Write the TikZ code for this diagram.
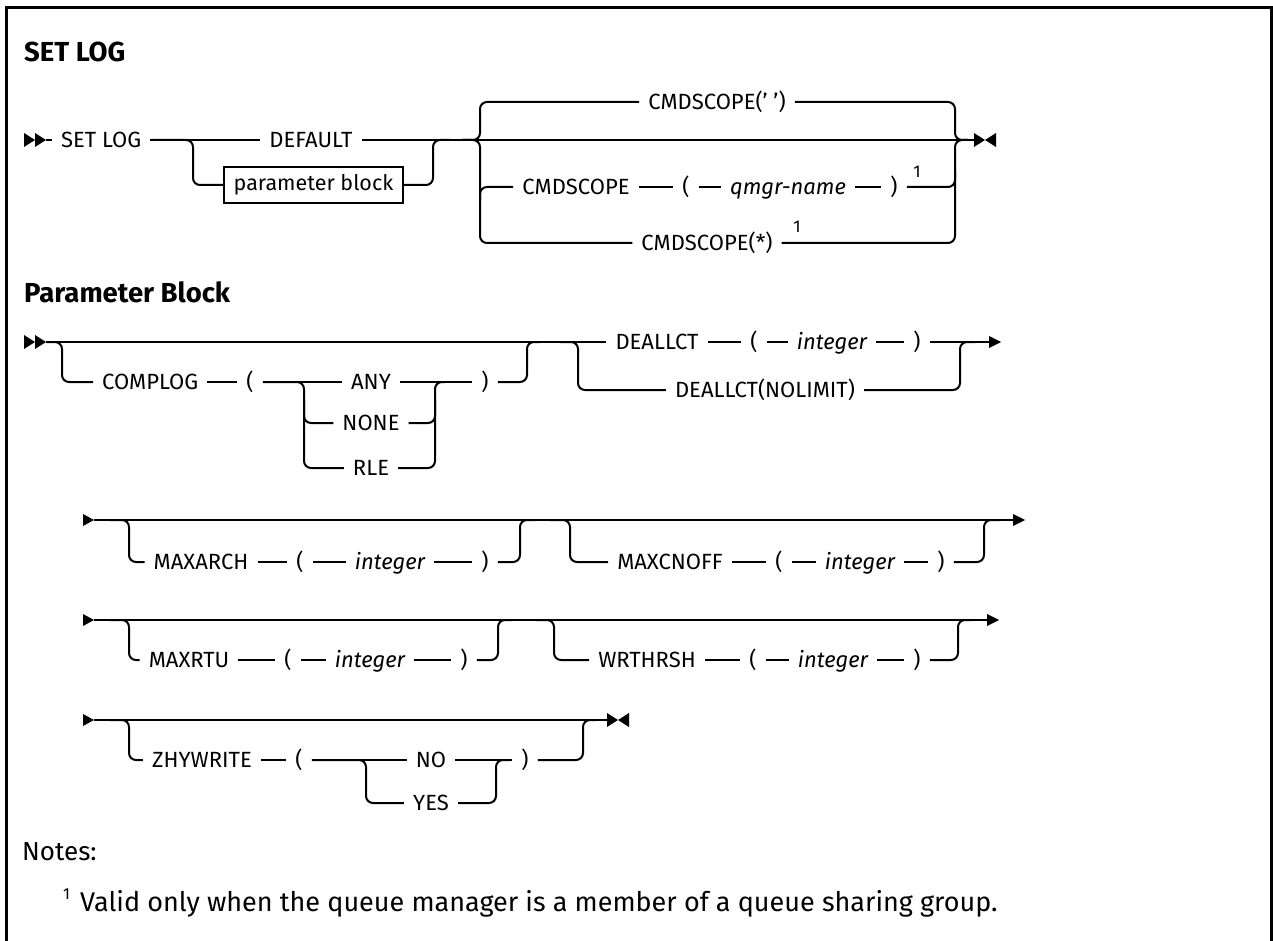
\documentclass[tikz,border=0pt]{standalone}
\usepackage{fontspec}
\setmainfont{Fira Sans}
\usetikzlibrary{calc}
\begin{document}
\begin{tikzpicture}[x=1pt,y=-1pt,
  ln/.style={line width=2pt},
  rc/.style={line width=2pt,rounded corners=7pt},
  tok/.style={font=\fontsize{22}{24}\selectfont, inner xsep=9pt, inner ysep=0pt, text height=15pt, text depth=0pt},
  itok/.style={tok, font=\fontsize{22}{24}\selectfont\itshape},
  supn/.style={font=\fontsize{17}{20}\selectfont, inner sep=0pt},
  pbox/.style={draw, line width=2pt, minimum width=179pt, minimum height=36pt, inner sep=0pt, font=\fontsize{21.5}{24}\selectfont},
  hdr/.style={font=\fontsize{27.5}{30}\selectfont\bfseries, anchor=west, inner sep=0pt, text height=18pt, text depth=0pt},
  note/.style={anchor=base west, inner sep=0pt, font=\fontsize{27}{30}\selectfont},
  dstart/.pic={\fill (0,-7)--(11,0)--(0,7)--cycle; \fill (11,-7)--(22,0)--(11,7)--cycle;},
  sstart/.pic={\fill (0,-6)--(11,0)--(0,6)--cycle;},
  fin/.pic={\fill (0,-7)--(11,0)--(0,7)--cycle; \fill (22,-7)--(11,0)--(22,7)--cycle;},
  arr/.pic={\fill (-12,-6)--(0,0)--(-12,6)--cycle;},
]
\useasboundingbox (0,0) rectangle (1273,941);
\draw[line width=3pt] (6,941) -- (6,8) -- (1271,8) -- (1271,941);

% ---------- SET LOG ----------
\node[hdr] (t1) at (24,53) {SET LOG};
\pic at (24,140) {dstart};
\coordinate (r1s) at (46,140);
\node[tok,anchor=west] (setlog) at (52,140) {SET LOG};
\node[tok] (dflt) at (311,140) {DEFAULT};
\node[pbox] (pb) at (313.5,185) {parameter block};
\node[tok] (c1) at (717,102) {CMDSCOPE(' ')};
\node[tok] (q1) at (576,187) {CMDSCOPE};
\node[tok] (q2) at (686,187) {(};
\node[itok] (q3) at (788,187) {qmgr-name};
\node[tok] (q4) at (894,187) {)};
\node[supn] (q5) at (917,172) {1};
\node[tok] (c3) at (707,243) {CMDSCOPE(*)};
\node[supn] (c3s) at (797,227) {1};
\coordinate (e1) at (974,140);
\pic at (974,140) {fin};

\draw[ln] (r1s) -- (setlog.west);
\draw[ln] (setlog.east) -- (dflt.west);
\draw[rc] (setlog.east) -| (193,185) -- (pb.west);
\draw[ln] (dflt.east) -- (e1);
\draw[rc] (pb.east) -| (433,140) -- (450,140);
\draw[rc] (462,140) -| (480,102) -- (c1.west);
\draw[rc] (462,140) -| (480,243) -- (c3.west);
\draw[rc] (480,200) |- (q1.west);
\draw[ln] (q1.east) -- (q2.west);
\draw[ln] (q2.east) -- (q3.west);
\draw[ln] (q3.east) -- (q4.west);
\draw[rc] (q4.east) -| (955,170);
\draw[rc] (c1.east) -| (955,140) -- (968,140);
\draw[rc] (c3.east) -| (955,140) -- (968,140);

% ---------- Parameter Block ----------
\node[hdr] (t2) at (24,293) {Parameter Block};
\pic at (24,342) {dstart};
\coordinate (r2s) at (46,342);
\node[tok,anchor=west] (cl) at (93,382) {COMPLOG};
\node[tok] (clp) at (250,382) {(};
\node[tok] (any) at (371,382) {ANY};
\node[tok] (none) at (371,423) {NONE};
\node[tok] (rle) at (371,468) {RLE};
\node[tok] (clr) at (485,382) {)};
\node[tok] (da) at (657,342) {DEALLCT};
\node[tok] (dap) at (754,342) {(};
\node[itok] (dai) at (832,342) {integer};
\node[tok] (dar) at (917,342) {)};
\node[tok] (dnl) at (765,390) {DEALLCT(NOLIMIT)};
\coordinate (r2e) at (990,342);
\pic at (1001,342) {arr};

\draw[ln] (r2s) -- (da.west);
\draw[rc] (r2s) -| (62,382) -- (cl.west);
\draw[ln] (cl.east) -- (clp.west);
\draw[ln] (clp.east) -- (any.west);
\draw[rc] (clp.east) -| (304,468) -- (rle.west);
\draw[rc] (304,400) |- (none.west);
\draw[ln] (any.east) -- (clr.west);
\draw[rc] (rle.east) -| (435,382) -- (445,382);
\draw[rc] (none.east) -| (435,400);
\draw[rc] (clr.east) -| (527,342) -- (540,342);
\draw[rc] (560,342) -| (578,390) -- (dnl.west);
\draw[ln] (da.east) -- (dap.west);
\draw[ln] (dap.east) -- (dai.west);
\draw[ln] (dai.east) -- (dar.west);
\draw[ln] (dar.east) -- (r2e);
\draw[rc] (dnl.east) -| (960,342) -- (975,342);

% ---------- row 3 ----------
\pic at (83,520) {sstart};
\coordinate (r3s) at (94,520);
\coordinate (r3e) at (1014,520);
\node[tok] (ma) at (201,562) {MAXARCH};
\node[tok] (map) at (300,562) {(};
\node[itok] (mai) at (390,562) {integer};
\node[tok] (mar) at (485,562) {)};
\node[tok] (mc) at (670,562) {MAXCNOFF};
\node[tok] (mcp) at (779,562) {(};
\node[itok] (mci) at (860,562) {integer};
\node[tok] (mcr) at (941,562) {)};
\pic at (1025,520) {arr};
\draw[ln] (r3s) -- (r3e);
\draw[rc] (110,520) -| (129,562) -- (ma.west);
\draw[ln] (ma.east) -- (map.west);
\draw[ln] (map.east) -- (mai.west);
\draw[ln] (mai.east) -- (mar.west);
\draw[rc] (mar.east) -| (520,520) -- (535,520);
\draw[rc] (550,520) -| (570,562) -- (mc.west);
\draw[ln] (mc.east) -- (mcp.west);
\draw[ln] (mcp.east) -- (mci.west);
\draw[ln] (mci.east) -- (mcr.west);
\draw[rc] (mcr.east) -| (984,520) -- (1000,520);

% ---------- row 4 ----------
\pic at (83,620) {sstart};
\coordinate (r4s) at (94,620);
\coordinate (r4e) at (988,620);
\node[tok] (mr) at (189,660) {MAXRTU};
\node[tok] (mrp) at (288,660) {(};
\node[itok] (mri) at (370,660) {integer};
\node[tok] (mrr) at (464,660) {)};
\node[tok] (wr) at (647,660) {WRTHRSH};
\node[tok] (wrp) at (753,660) {(};
\node[itok] (wri) at (833,660) {integer};
\node[tok] (wrr) at (917,660) {)};
\pic at (999,620) {arr};
\draw[ln] (r4s) -- (r4e);
\draw[rc] (110,620) -| (129,660) -- (mr.west);
\draw[ln] (mr.east) -- (mrp.west);
\draw[ln] (mrp.east) -- (mri.west);
\draw[ln] (mri.east) -- (mrr.west);
\draw[rc] (mrr.east) -| (498,620) -- (512,620);
\draw[rc] (536,620) -| (554,660) -- (wr.west);
\draw[ln] (wr.east) -- (wrp.west);
\draw[ln] (wrp.east) -- (wri.west);
\draw[ln] (wri.east) -- (wrr.west);
\draw[rc] (wrr.east) -| (958,620) -- (972,620);

% ---------- row 5 ----------
\pic at (83,720) {sstart};
\coordinate (r5s) at (94,720);
\coordinate (r5e) at (607,720);
\node[tok] (zh) at (202,760) {ZHYWRITE};
\node[tok] (zhp) at (299,760) {(};
\node[tok] (no) at (431,760) {NO};
\node[tok] (yes) at (431,803) {YES};
\node[tok] (zhr) at (525,760) {)};
\pic at (607,720) {fin};
\draw[ln] (r5s) -- (r5e);
\draw[rc] (110,720) -| (129,760) -- (zh.west);
\draw[ln] (zh.east) -- (zhp.west);
\draw[ln] (zhp.east) -- (no.west);
\draw[rc] (zhp.east) -| (366,803) -- (yes.west);
\draw[ln] (no.east) -- (zhr.west);
\draw[rc] (yes.east) -| (496,760) -- (510,760);
\draw[rc] (zhr.east) -| (583,720) -- (597,720);

% ---------- notes ----------
\node[note, font=\fontsize{26}{30}\selectfont] (notes) at (22,860) {Notes:};
\node[anchor=base west, inner sep=0pt, font=\fontsize{16}{18}\selectfont] (fnm) at (63,899) {1};
\node[note] (fn) at (80,911) {Valid only when the queue manager is a member of a queue sharing group.};
\end{tikzpicture}
\end{document}
